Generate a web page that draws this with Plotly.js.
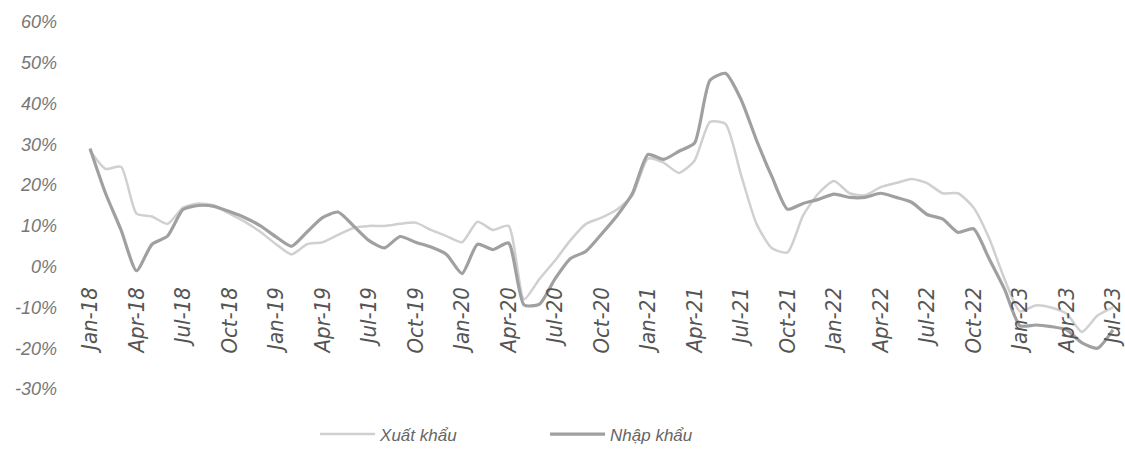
<!DOCTYPE html>
<html>
<head>
<meta charset="utf-8">
<script src="https://cdn.plot.ly/plotly-3.0.1.min.js"></script>
<style>html,body{margin:0;padding:0;background:#fff;}#chart{width:1125px;height:457px;}</style>
</head>
<body>
<div id="chart"></div>
<script>
const months = [
  "Jan-18","Feb-18","Mar-18","Apr-18","May-18","Jun-18","Jul-18","Aug-18","Sep-18","Oct-18","Nov-18","Dec-18",
  "Jan-19","Feb-19","Mar-19","Apr-19","May-19","Jun-19","Jul-19","Aug-19","Sep-19","Oct-19","Nov-19","Dec-19",
  "Jan-20","Feb-20","Mar-20","Apr-20","May-20","Jun-20","Jul-20","Aug-20","Sep-20","Oct-20","Nov-20","Dec-20",
  "Jan-21","Feb-21","Mar-21","Apr-21","May-21","Jun-21","Jul-21","Aug-21","Sep-21","Oct-21","Nov-21","Dec-21",
  "Jan-22","Feb-22","Mar-22","Apr-22","May-22","Jun-22","Jul-22","Aug-22","Sep-22","Oct-22","Nov-22","Dec-22",
  "Jan-23","Feb-23","Mar-23","Apr-23","May-23","Jun-23","Jul-23"
];
const tickLabels = ["Jan-18","Apr-18","Jul-18","Oct-18","Jan-19","Apr-19","Jul-19","Oct-19","Jan-20","Apr-20","Jul-20","Oct-20",
  "Jan-21","Apr-21","Jul-21","Oct-21","Jan-22","Apr-22","Jul-22","Oct-22","Jan-23","Apr-23","Jul-23"];
const yTickVals = [-30, -20, -10, 0, 10, 20, 30, 40, 50, 60];
const yTickText = ["-30%", "-20%", "-10%", "0%", "10%", "20%", "30%", "40%", "50%", "60%"];
const xuatKhau = [
  28.5, 24, 24.5, 13, 12.3, 10.5, 14.5, 15.5, 15, 13, 11, 8.5,
  5.5, 3, 5.5, 6, 7.8, 9.5, 10, 10, 10.5, 10.8, 9, 7.5,
  6, 11, 9, 10, -8, -3, 1.5, 6.5, 10.5, 12, 14, 17.5,
  26.5, 25.5, 23, 26, 35.5, 35, 22.5, 10.5, 4.5, 3.5, 12.5, 18,
  21, 18, 17.5, 19.5, 20.5, 21.5, 20.5, 18, 18, 14.5, 7, -3,
  -11, -9.5, -10, -11.5, -16, -12, -10
];
const nhapKhau = [
  29, 18, 9, -1, 5.5, 7.5, 14, 15, 14.8, 13.5, 12, 10,
  7.3, 5, 8.5, 12, 13.4, 10, 6.4, 4.6, 7.4, 6, 4.8, 3,
  -1.7, 5.5, 4.2, 5.8, -9.4, -9.2, -3, 2, 3.8, 8, 12.5, 18,
  27.5, 26.3, 28.3, 30.3, 45.7, 47.4, 41, 31, 22, 14.1, 15.5, 16.5,
  17.8, 17, 17, 18, 17, 15.8, 12.8, 11.7, 8.4, 9.3, 2, -5.5,
  -14.5, -14.3, -14.7, -15.5, -18.7, -20, -15.5
];
const seriesNames = ["Xuất khẩu", "Nhập khẩu"];

const traces = [
  {x: months, y: xuatKhau, name: seriesNames[0], type: 'scatter', mode: 'lines',
   line: {color: '#d0d0d0', width: 2.5, shape: 'spline', smoothing: 0.6}},
  {x: months, y: nhapKhau, name: seriesNames[1], type: 'scatter', mode: 'lines',
   line: {color: '#a0a0a0', width: 3.2, shape: 'spline', smoothing: 0.6}}
];

const layout = {
  width: 1125, height: 457,
  margin: {l: 88, r: 5, t: 22, b: 65},
  paper_bgcolor: '#ffffff', plot_bgcolor: '#ffffff',
  showlegend: true,
  legend: {orientation: 'h', x: 0.22, xanchor: 'left', y: -0.124, yanchor: 'middle',
           itemwidth: 55,
           font: {family: 'Liberation Sans, Arial, sans-serif', size: 17, color: '#666', style: 'italic'},
           entrywidth: 160},
  xaxis: {
    type: 'category', range: [-0.13, 66.45],
    tickmode: 'array', tickvals: tickLabels, ticktext: tickLabels,
    tickangle: -90, ticklabelstandoff: 15,
    showgrid: false, zeroline: false, showline: false, ticks: '',
    anchor: 'free', position: 1/3,
    tickfont: {family: 'Liberation Sans Narrow, DejaVu Sans Condensed, sans-serif', size: 22, color: '#555', style: 'italic'}
  },
  yaxis: {
    range: [-30, 60], tickmode: 'array', tickvals: yTickVals, ticktext: yTickText,
    showgrid: false, zeroline: false, showline: false, ticks: '',
    ticklabelstandoff: 30,
    tickfont: {family: 'Liberation Sans, Arial, sans-serif', size: 18, color: '#777', style: 'italic'}
  }
};

Plotly.newPlot('chart', traces, layout, {displayModeBar: false, staticPlot: true});
</script>
</body>
</html>
